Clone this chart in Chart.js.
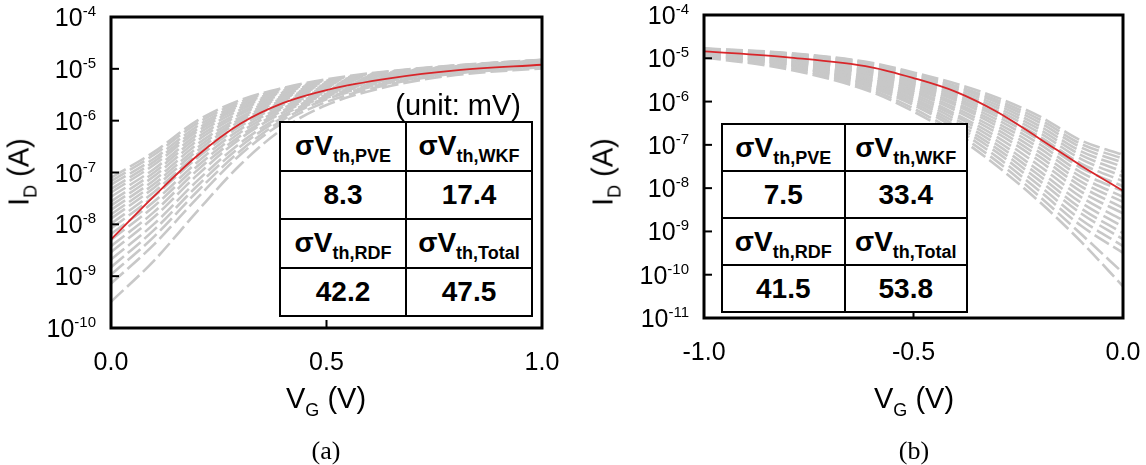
<!DOCTYPE html>
<html>
<head>
<meta charset="utf-8">
<script src="https://cdn.jsdelivr.net/npm/chart.js@4.4.1/dist/chart.umd.min.js"></script>
<style>
	body { margin: 0; background: #fff; }
	#wrap { position: relative; width: 1146px; height: 465px; overflow: hidden; font-family: "Liberation Sans", Arial, sans-serif; color: #000; }
	canvas { position: absolute; top: 0; }
	.lbl { position: absolute; white-space: nowrap; font-size: 29px; line-height: 1; }
	.lbl sub { font-size: 18px; vertical-align: -8px; line-height: 0; }
	.ytitle { transform: translate(-50%, -50%) rotate(-90deg); }
	.xtitle { transform: translateX(-50%); }
	.cap { font-family: "Liberation Serif", "Times New Roman", serif; font-size: 26px; transform: translateX(-50%); }
	table.sig { position: absolute; border-collapse: collapse; background: #fff; font-weight: bold; table-layout: fixed; }
	table.sig td { border: 2px solid #000; text-align: center; padding: 0; font-size: 28px; line-height: 1; width: 50%; }
	table.sig sub { font-size: 18px; vertical-align: -7px; line-height: 0; }
</style>
</head>
<body>
<div id="wrap">
	<canvas id="chart-nmos" width="573" height="465" style="left:0"></canvas>
	<canvas id="chart-pmos" width="573" height="465" style="left:573px"></canvas>

	<div class="lbl ytitle" style="left:19px; top:172px">I<sub>D</sub> (A)</div>
	<div class="lbl ytitle" style="left:603px; top:172px">I<sub>D</sub> (A)</div>
	<div class="lbl xtitle" style="left:326px; top:384px">V<sub>G</sub> (V)</div>
	<div class="lbl xtitle" style="left:914px; top:384px">V<sub>G</sub> (V)</div>
	<div class="lbl cap" style="left:326px; top:438px">(a)</div>
	<div class="lbl cap" style="left:914px; top:438px">(b)</div>

	<div class="lbl" style="right:625px; top:91px">(unit: mV)</div>
	<table class="sig" id="table-nmos" style="left:279px; top:121px; width:254px; height:196px"></table>
	<table class="sig" id="table-pmos" style="left:721px; top:123px; width:247px; height:190px"></table>
</div>

<script>
//---------------------------------------------------------
// Data
//---------------------------------------------------------

// (a) n-type: gate voltage (V) and drain current (A)
const VG_N = [0, 0.1, 0.2, 0.3, 0.4, 0.5, 0.65, 0.8, 1.0];
const ID_N_NOMINAL = [5.1e-9, 3.5e-8, 2.1e-7, 8.7e-7, 2.2e-6, 3.9e-6, 6.6e-6, 9.3e-6, 1.2e-5];
const ID_N_SAMPLES = [
	[7.9e-8, 2.5e-7, 1.0e-6, 2.5e-6, 4.3e-6, 6.3e-6, 9.1e-6, 1.17e-5, 1.5e-5],
	[6.8e-8, 2.2e-7, 8.9e-7, 2.3e-6, 4.1e-6, 6.0e-6, 8.9e-6, 1.15e-5, 1.48e-5],
	[5.8e-8, 1.86e-7, 7.8e-7, 2.09e-6, 3.8e-6, 5.9e-6, 8.7e-6, 1.15e-5, 1.48e-5],
	[4.8e-8, 1.62e-7, 6.9e-7, 1.95e-6, 3.6e-6, 5.6e-6, 8.5e-6, 1.12e-5, 1.45e-5],
	[4.1e-8, 1.41e-7, 6.2e-7, 1.78e-6, 3.47e-6, 5.5e-6, 8.3e-6, 1.12e-5, 1.45e-5],
	[3.4e-8, 1.17e-7, 5.4e-7, 1.62e-6, 3.2e-6, 5.2e-6, 8.1e-6, 1.1e-5, 1.41e-5],
	[2.75e-8, 1.0e-7, 4.7e-7, 1.45e-6, 3.0e-6, 5.0e-6, 7.9e-6, 1.07e-5, 1.41e-5],
	[2.3e-8, 8.5e-8, 4.1e-7, 1.32e-6, 2.8e-6, 4.9e-6, 7.8e-6, 1.07e-5, 1.38e-5],
	[1.9e-8, 7.1e-8, 3.5e-7, 1.17e-6, 2.7e-6, 4.7e-6, 7.6e-6, 1.05e-5, 1.38e-5],
	[1.55e-8, 6.0e-8, 3.0e-7, 1.07e-6, 2.5e-6, 4.5e-6, 7.4e-6, 1.02e-5, 1.35e-5],
	[1.29e-8, 5.1e-8, 2.6e-7, 9.8e-7, 2.3e-6, 4.3e-6, 7.2e-6, 1.02e-5, 1.32e-5],
	[1.02e-8, 4.2e-8, 2.24e-7, 8.7e-7, 2.2e-6, 4.1e-6, 7.1e-6, 1.0e-5, 1.32e-5],
	[8.3e-9, 3.5e-8, 1.9e-7, 7.8e-7, 2.04e-6, 3.9e-6, 6.9e-6, 9.8e-6, 1.29e-5],
	[6.5e-9, 2.75e-8, 1.58e-7, 6.8e-7, 1.86e-6, 3.7e-6, 6.8e-6, 9.5e-6, 1.26e-5],
	[5.0e-9, 2.24e-8, 1.32e-7, 5.9e-7, 1.74e-6, 3.5e-6, 6.5e-6, 9.3e-6, 1.23e-5],
	[3.8e-9, 1.74e-8, 1.1e-7, 5.1e-7, 1.58e-6, 3.3e-6, 6.3e-6, 9.1e-6, 1.23e-5],
	[2.9e-9, 1.38e-8, 8.9e-8, 4.5e-7, 1.45e-6, 3.16e-6, 6.2e-6, 9.1e-6, 1.2e-5],
	[2.1e-9, 1.02e-8, 6.9e-8, 3.7e-7, 1.29e-6, 2.95e-6, 5.9e-6, 8.7e-6, 1.17e-5],
	[1.48e-9, 7.8e-9, 5.5e-8, 3.16e-7, 1.17e-6, 2.75e-6, 5.6e-6, 8.5e-6, 1.15e-5],
	[1.07e-9, 5.8e-9, 4.3e-8, 2.6e-7, 1.05e-6, 2.6e-6, 5.4e-6, 8.3e-6, 1.12e-5],
	[7.2e-10, 4.1e-9, 3.2e-8, 2.2e-7, 9.3e-7, 2.3e-6, 5.1e-6, 8.1e-6, 1.07e-5],
	[3.2e-10, 2.0e-9, 1.78e-8, 1.41e-7, 7.1e-7, 2.0e-6, 4.7e-6, 7.6e-6, 1.02e-5],
];
const X_TICKS_N = [0, 0.5, 1.0];
const Y_TICKS_N = [1e-10, 1e-9, 1e-8, 1e-7, 1e-6, 1e-5, 1e-4];

// (b) p-type
const VG_P = [-1.0, -0.8, -0.6, -0.5, -0.4, -0.3, -0.2, -0.1, 0];
const ID_P_NOMINAL = [1.45e-5, 1.05e-5, 6.2e-6, 3.5e-6, 1.7e-6, 5.75e-7, 1.41e-7, 3.3e-8, 8.7e-9];
const ID_P_SAMPLES = [
	[1.7e-5, 1.32e-5, 7.9e-6, 4.7e-6, 2.6e-6, 1.23e-6, 4.6e-7, 1.26e-7, 5.9e-8],
	[1.66e-5, 1.29e-5, 7.6e-6, 4.4e-6, 2.3e-6, 1.07e-6, 3.9e-7, 1.05e-7, 4.8e-8],
	[1.66e-5, 1.26e-5, 7.1e-6, 4.1e-6, 2.14e-6, 9.5e-7, 3.3e-7, 8.7e-8, 3.9e-8],
	[1.62e-5, 1.2e-5, 6.8e-6, 3.8e-6, 1.91e-6, 8.3e-7, 2.75e-7, 7.1e-8, 3.1e-8],
	[1.58e-5, 1.17e-5, 6.3e-6, 3.5e-6, 1.7e-6, 7.2e-7, 2.3e-7, 5.8e-8, 2.4e-8],
	[1.55e-5, 1.15e-5, 5.9e-6, 3.16e-6, 1.51e-6, 6.2e-7, 1.91e-7, 4.7e-8, 1.86e-8],
	[1.55e-5, 1.1e-5, 5.5e-6, 2.95e-6, 1.35e-6, 5.2e-7, 1.58e-7, 3.7e-8, 1.45e-8],
	[1.51e-5, 1.07e-5, 5.1e-6, 2.7e-6, 1.2e-6, 4.5e-7, 1.29e-7, 2.95e-8, 1.1e-8],
	[1.48e-5, 1.02e-5, 4.8e-6, 2.45e-6, 1.07e-6, 3.8e-7, 1.05e-7, 2.3e-8, 8.5e-9],
	[1.45e-5, 1.0e-5, 4.5e-6, 2.24e-6, 9.3e-7, 3.2e-7, 8.5e-8, 1.82e-8, 6.3e-9],
	[1.41e-5, 9.5e-6, 4.2e-6, 2.04e-6, 8.3e-7, 2.7e-7, 6.8e-8, 1.41e-8, 4.8e-9],
	[1.38e-5, 9.1e-6, 3.9e-6, 1.82e-6, 7.1e-7, 2.24e-7, 5.4e-8, 1.1e-8, 3.5e-9],
	[1.35e-5, 8.9e-6, 3.5e-6, 1.66e-6, 6.2e-7, 1.86e-7, 4.3e-8, 8.3e-9, 2.6e-9],
	[1.32e-5, 8.5e-6, 3.2e-6, 1.48e-6, 5.2e-7, 1.51e-7, 3.3e-8, 6.2e-9, 1.82e-9],
	[1.29e-5, 8.1e-6, 3.0e-6, 1.32e-6, 4.6e-7, 1.23e-7, 2.5e-8, 4.6e-9, 1.29e-9],
	[1.26e-5, 7.8e-6, 2.75e-6, 1.17e-6, 3.9e-7, 1.0e-7, 1.95e-8, 3.4e-9, 9.1e-10],
	[1.23e-5, 7.4e-6, 2.5e-6, 1.05e-6, 3.3e-7, 8.1e-8, 1.51e-8, 2.6e-9, 6.6e-10],
	[1.2e-5, 7.1e-6, 2.3e-6, 9.3e-7, 2.8e-7, 6.6e-8, 1.15e-8, 1.86e-9, 4.6e-10],
	[1.17e-5, 6.8e-6, 2.1e-6, 8.3e-7, 2.4e-7, 5.2e-8, 8.7e-9, 1.35e-9, 3.2e-10],
	[1.1e-5, 6.2e-6, 1.86e-6, 6.9e-7, 1.95e-7, 4.1e-8, 6.5e-9, 8.7e-10, 1.1e-10],
	[1.05e-5, 5.6e-6, 1.66e-6, 5.9e-7, 1.62e-7, 3.2e-8, 4.9e-9, 5.8e-10, 5.4e-11],
];
const X_TICKS_P = [-1.0, -0.5, 0];
const Y_TICKS_P = [1e-11, 1e-10, 1e-9, 1e-8, 1e-7, 1e-6, 1e-5, 1e-4];

// sigma Vth tables (mV)
const SIGMA_LABELS = ["PVE", "WKF", "RDF", "Total"];
const SIGMA_N = [8.3, 17.4, 42.2, 47.5];
const SIGMA_P = [7.5, 33.4, 41.5, 53.8];

//---------------------------------------------------------
// Chart
//---------------------------------------------------------
const GRAY = "#c8c8c8";
const RED = "#d8262a";
const TICK_FONT = '25px "Liberation Sans", Arial, sans-serif';
const SUP_FONT = '15px "Liberation Sans", Arial, sans-serif';

// box, inward ticks and 10^n labels
const axisFrame = {
	id: "axisFrame",
	afterDraw(chart) {
		const { ctx, chartArea: a, scales } = chart;
		const x = scales.x;
		const y = scales.y;
		ctx.save();
		ctx.strokeStyle = "#000";
		ctx.fillStyle = "#000";
		ctx.lineWidth = 2;

		y.ticks.forEach((t) => {
			const py = y.getPixelForValue(t.value);
			ctx.beginPath();
			ctx.moveTo(a.left, py);
			ctx.lineTo(a.left + 8, py);
			ctx.stroke();

			const exp = String(Math.round(Math.log10(t.value)));
			ctx.textAlign = "right";
			ctx.textBaseline = "alphabetic";
			ctx.font = SUP_FONT;
			const supW = ctx.measureText(exp).width;
			ctx.fillText(exp, a.left - 15, py - 1);
			ctx.font = TICK_FONT;
			ctx.fillText("10", a.left - 15 - supW, py + 9);
		});

		x.ticks.forEach((t) => {
			const px = x.getPixelForValue(t.value);
			ctx.beginPath();
			ctx.moveTo(px, a.bottom);
			ctx.lineTo(px, a.bottom - 8);
			ctx.stroke();

			ctx.font = TICK_FONT;
			ctx.textAlign = "center";
			ctx.fillText(t.value.toFixed(1), px, a.bottom + 42);
		});

		ctx.lineWidth = 3;
		ctx.strokeRect(a.left, a.top, a.right - a.left, a.bottom - a.top);
		ctx.restore();
	},
};

const makeChart = (id, vg, nominal, samples, xTicks, yTicks, box) => {
	const datasets = [
		{
			data: vg.map((v, i) => ({ x: v, y: nominal[i] })),
			borderColor: RED,
			borderWidth: 1.8,
			order: 0,
		},
		...samples.map((run) => ({
			data: vg.map((v, i) => ({ x: v, y: run[i] })),
			borderColor: GRAY,
			borderWidth: 2.6,
			borderDash: [17, 5],
			order: 1,
		})),
	];

	return new Chart(document.getElementById(id), {
		type: "line",
		data: { datasets },
		options: {
			responsive: false,
			animation: false,
			events: [],
			elements: {
				point: { radius: 0 },
				line: { cubicInterpolationMode: "monotone" },
			},
			layout: { padding: { left: 0, top: box.top, right: box.right, bottom: 0 } },
			plugins: { legend: { display: false }, tooltip: { enabled: false } },
			scales: {
				x: {
					type: "linear",
					min: xTicks[0],
					max: xTicks[xTicks.length - 1],
					grid: { display: false },
					border: { display: false },
					ticks: { display: false },
					afterBuildTicks: (s) => {
						s.ticks = xTicks.map((v) => ({ value: v }));
					},
					afterFit: (s) => {
						s.height = box.xHeight;
					},
				},
				y: {
					type: "logarithmic",
					min: yTicks[0],
					max: yTicks[yTicks.length - 1],
					grid: { display: false },
					border: { display: false },
					ticks: { display: false },
					afterBuildTicks: (s) => {
						s.ticks = yTicks.map((v) => ({ value: v }));
					},
					afterFit: (s) => {
						s.width = box.yWidth;
					},
				},
			},
		},
		plugins: [axisFrame],
	});
};

makeChart("chart-nmos", VG_N, ID_N_NOMINAL, ID_N_SAMPLES, X_TICKS_N, Y_TICKS_N, { top: 17, right: 31, xHeight: 137, yWidth: 111 });
makeChart("chart-pmos", VG_P, ID_P_NOMINAL, ID_P_SAMPLES, X_TICKS_P, Y_TICKS_P, { top: 15, right: 23, xHeight: 147, yWidth: 131 });

// sigma tables
const fillTable = (id, values) => {
	const cell = (i) => `<td>σV<sub>th,${SIGMA_LABELS[i]}</sub></td>`;
	const num = (i) => `<td>${values[i].toFixed(1)}</td>`;
	document.getElementById(id).innerHTML =
		`<tr>${cell(0)}${cell(1)}</tr><tr>${num(0)}${num(1)}</tr>` +
		`<tr>${cell(2)}${cell(3)}</tr><tr>${num(2)}${num(3)}</tr>`;
};
fillTable("table-nmos", SIGMA_N);
fillTable("table-pmos", SIGMA_P);
</script>
</body>
</html>
